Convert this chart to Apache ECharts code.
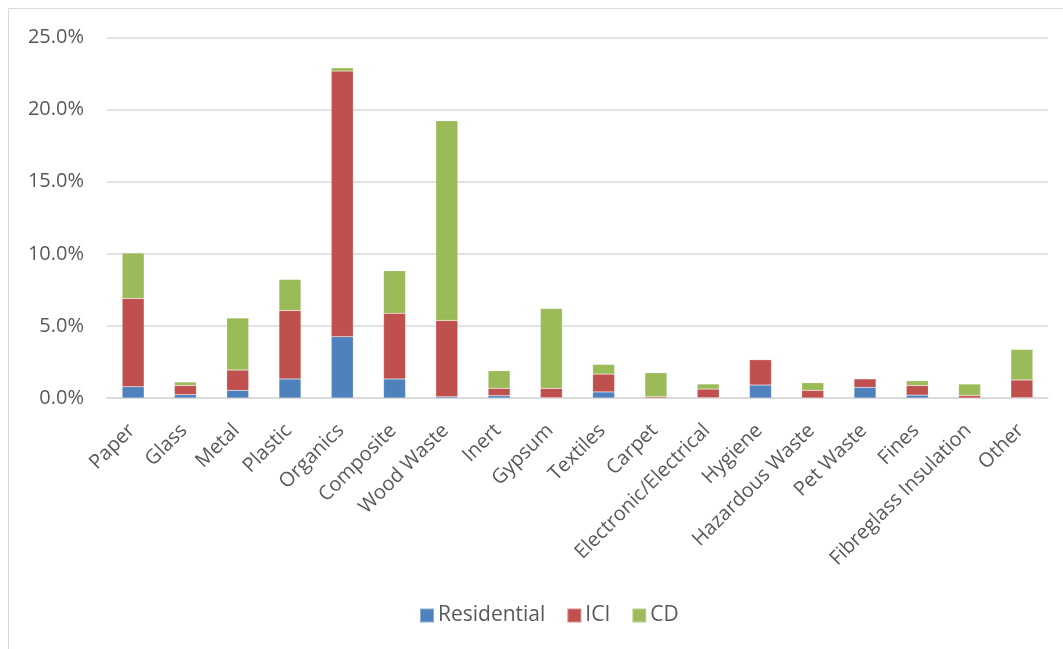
<!DOCTYPE html>
<html>
<head>
<meta charset="utf-8">
<script src="https://cdn.jsdelivr.net/npm/echarts@6/dist/echarts.min.js"></script>
<style>
  html, body { margin: 0; padding: 0; background: #ffffff; }
  #chart { width: 1063px; height: 649px; }
</style>
</head>
<body>
<div id="chart"></div>
<script>
// Waste composition by material, share of total (%) split by sector
const categories = ['Paper', 'Glass', 'Metal', 'Plastic', 'Organics', 'Composite', 'Wood Waste',
  'Inert', 'Gypsum', 'Textiles', 'Carpet', 'Electronic/Electrical', 'Hygiene', 'Hazardous Waste',
  'Pet Waste', 'Fines', 'Fibreglass Insulation', 'Other'];
const residential = [0.78, 0.23, 0.53, 1.32, 4.25, 1.32, 0.09, 0.16, 0.02, 0.42, 0.0, 0.02, 0.90, 0.0, 0.74, 0.20, 0.0, 0.02];
const ici = [6.12, 0.64, 1.41, 4.75, 18.42, 4.55, 5.29, 0.51, 0.65, 1.24, 0.09, 0.60, 1.76, 0.53, 0.59, 0.67, 0.18, 1.23];
const cd = [3.15, 0.24, 3.61, 2.15, 0.23, 2.96, 13.85, 1.22, 5.54, 0.67, 1.66, 0.35, 0.0, 0.53, 0.0, 0.33, 0.79, 2.12];
const yTicks = [0, 5, 10, 15, 20, 25];

const FONT = '"Open Sans", "Liberation Sans", sans-serif';
const TEXT = '#595959';
const FS = 20;

const chart = echarts.init(document.getElementById('chart'), null, { renderer: 'canvas' });

function barSeries(name, data, color) {
  return {
    name: name,
    type: 'bar',
    stack: 'total',
    barWidth: 22,
    data: data,
    itemStyle: { color: color, borderColor: 'rgba(255,255,255,0.35)', borderWidth: 0.5 },
    emphasis: { disabled: true }
  };
}

chart.setOption({
  animation: false,
  backgroundColor: '#ffffff',
  graphic: [{
    type: 'rect',
    shape: { x: 8.5, y: 8.5, width: 1100, height: 700 },
    style: { fill: 'none', stroke: '#D9D9D9', lineWidth: 1 },
    silent: true, z: -1
  }],
  grid: { left: 107, right: 15, top: 37.5, bottom: 251, containLabel: false },
  legend: {
    top: 600,
    left: 414,
    itemWidth: 14,
    itemHeight: 14,
    itemGap: 21,
    icon: 'rect',
    textStyle: { fontFamily: FONT, fontSize: 21, color: TEXT, padding: [0, 0, 0, -1] },
    data: ['Residential', 'ICI', 'CD']
  },
  xAxis: {
    type: 'category',
    data: categories,
    axisLine: { lineStyle: { color: '#D9D9D9', width: 1.5 } },
    axisTick: { show: false },
    axisLabel: {
      interval: 0,
      rotate: 45,
      margin: 28,
      padding: [0, 2, 0, 0],
      fontFamily: FONT,
      fontSize: FS,
      color: TEXT
    }
  },
  yAxis: {
    type: 'value',
    min: yTicks[0],
    max: yTicks[yTicks.length - 1],
    interval: 5,
    axisLine: { show: false },
    axisTick: { show: false },
    splitLine: { lineStyle: { color: '#D9D9D9', width: 1.5 } },
    axisLabel: {
      margin: 23,
      fontFamily: FONT,
      fontSize: FS,
      color: TEXT,
      formatter: v => v.toFixed(1) + '%'
    }
  },
  series: [
    barSeries('Residential', residential, '#4F81BD'),
    barSeries('ICI', ici, '#C0504D'),
    barSeries('CD', cd, '#9BBB59')
  ]
});
</script>
</body>
</html>
